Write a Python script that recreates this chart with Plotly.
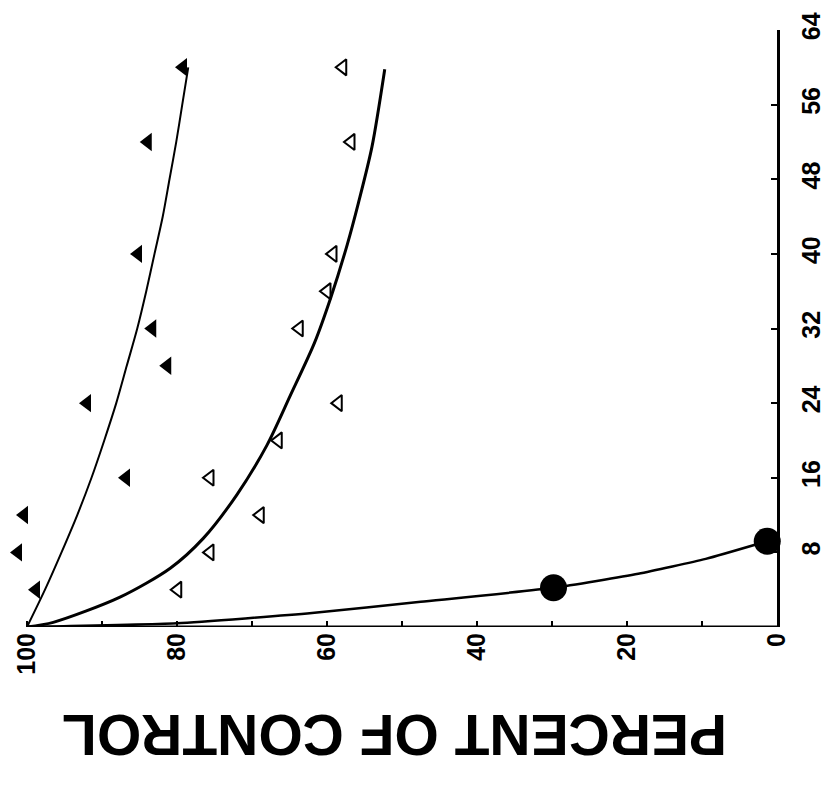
import plotly.graph_objects as go

# ---- data (time in hours on the vertical axis, percent of control on the horizontal axis) ----
filled_pct = [79.2, 83.9, 85.2, 83.3, 81.3, 92.0, 86.8, 100.4, 101.2, 98.8]
filled_t   = [60, 52, 40, 32, 28, 24, 16, 12, 8, 4]

open_pct = [57.9, 56.8, 59.2, 60.0, 63.7, 58.5, 66.5, 75.6, 68.9, 75.6, 79.9]
open_t   = [60, 52, 40, 36, 32, 24, 20, 16, 12, 8, 4]

circle_pct = [29.8, 1.3]
circle_t   = [4.2, 9.2]

curve1_t   = [0, 4, 8, 12, 16, 20, 24, 28, 32, 36, 40, 44, 48, 52, 56, 60]
curve1_pct = [100, 97.6, 95.4, 93.3, 91.4, 89.7, 88.1, 86.7, 85.3, 84.1, 83.0, 81.9, 81.0, 80.1, 79.3, 78.5]

curve2_t   = [0, 0.5, 3.2, 6.3, 9.5, 14.2, 19.5, 24.8, 30.4, 35.3, 41.0, 45.5, 51.5, 59.8]
curve2_pct = [100, 96.5, 87.6, 80.9, 76.5, 72.0, 68.0, 64.9, 61.7, 59.5, 57.3, 55.8, 54.0, 52.3]

curve3_t   = [0, 0.4, 1.5, 2.7, 4.2, 5.7, 7.3, 9.2]
curve3_pct = [100, 80, 62, 47.5, 29.8, 18.5, 9.5, 1.3]

pct_ticks = [0, 10, 20, 30, 40, 50, 60, 70, 80, 90, 100]
pct_labels = ["0", "", "20", "", "40", "", "60", "", "80", "", "100"]
pct_axis_span = [100, 0]
time_ticks = [8, 16, 24, 32, 40, 48, 56, 64]
time_labels = ["8", "16", "24", "32", "40", "48", "56", "64"]

FONT = "Liberation Sans, Arial, sans-serif"

fig = go.Figure()

for cx, cy, w, sm in [(curve1_pct, curve1_t, 2, 0.8), (curve2_pct, curve2_t, 3, 0.8),
                      (curve3_pct, curve3_t, 2.5, 0.5)]:
    fig.add_trace(go.Scatter(x=cx, y=cy, mode="lines",
                             line=dict(color="black", width=w, shape="spline", smoothing=sm),
                             hoverinfo="skip", showlegend=False))

fig.add_trace(go.Scatter(x=filled_pct, y=filled_t, mode="markers",
                         marker=dict(symbol="triangle-left", size=16, color="black"),
                         showlegend=False, cliponaxis=False))
fig.add_trace(go.Scatter(x=open_pct, y=open_t, mode="markers",
                         marker=dict(symbol="triangle-left-open", size=14, color="black",
                                     line=dict(width=2, color="black")),
                         showlegend=False, cliponaxis=False))
fig.add_trace(go.Scatter(x=circle_pct, y=circle_t, mode="markers",
                         marker=dict(symbol="circle", size=27, color="black"),
                         showlegend=False, cliponaxis=False))

# bottom axis line only spans 100 .. 0 percent
fig.add_shape(type="line", xref="x", yref="y",
              x0=pct_axis_span[0], x1=pct_axis_span[1], y0=0, y1=0,
              line=dict(color="black", width=3), layer="above")

fig.update_layout(
    width=838, height=789,
    margin=dict(l=12, r=61, t=23, b=162),
    paper_bgcolor="white", plot_bgcolor="white",
    xaxis=dict(range=[102, 0], tickvals=pct_ticks, ticktext=pct_labels,
               tickangle=-90, showline=False,
               ticks="inside", ticklen=6, tickwidth=2, tickcolor="black",
               showgrid=False, zeroline=False,
               tickfont=dict(family=FONT, size=25, color="black", weight="bold")),
    yaxis=dict(range=[0, 64], side="right", tickvals=time_ticks, ticktext=time_labels,
               tickangle=-90, showline=True, linecolor="black", linewidth=3,
               ticks="inside", ticklen=6, tickwidth=2, tickcolor="black",
               showgrid=False, zeroline=False, ticklabelstandoff=10,
               tickfont=dict(family=FONT, size=25, color="black", weight="bold")),
    annotations=[dict(text="PERCENT OF CONTROL", xref="paper", yref="paper",
                      x=0.5, y=-0.18, xanchor="center", yanchor="middle",
                      textangle=180, showarrow=False,
                      font=dict(family=FONT, size=57, color="black", weight="bold"))],
)

fig.write_html("out.html")
